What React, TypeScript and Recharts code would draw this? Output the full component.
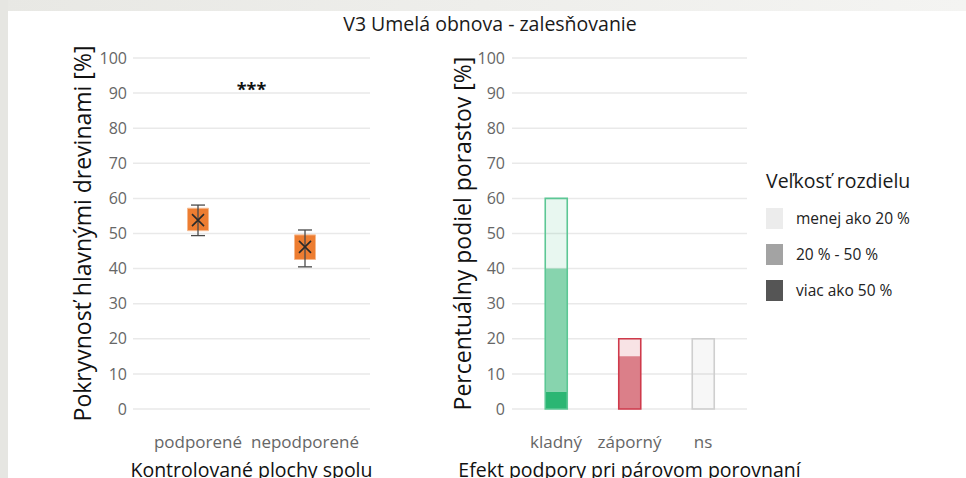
import {
  Bar,
  BarChart,
  CartesianGrid,
  Cell,
  ComposedChart,
  ErrorBar,
  Legend,
  ReferenceLine,
  Scatter,
  XAxis,
  YAxis,
} from "recharts";

const FONT = '"Open Sans", "DejaVu Sans", sans-serif';

// left panel: cover of main tree species, box plot per group
const groups = ["podporené", "nepodporené"];
const boxLow = [50.8, 42.6];
const boxHigh = [57.2, 49.6];
const whiskerLow = [49.4, 40.5];
const whiskerHigh = [58.1, 51.0];
const means = [53.8, 46.2];

const yTicks = [0, 10, 20, 30, 40, 50, 60, 70, 80, 90, 100];

// right panel: share of stands by effect, stacked by size of difference
const effects = ["kladný", "záporný", "ns"];
const over50 = [5, 0, 0];
const from20to50 = [35, 15, 0];
const under20 = [20, 5, 20];

const sizeLabels = ["menej ako 20 %", "20 % - 50 %", "viac ako 50 %"];
const sizeKeyColors = ["#ececec", "#a3a3a3", "#555555"];

const strongFill = ["#2bb673", "#c93545", "#d8d8d8"];
const midFill = ["#87d4ae", "#db7f89", "#e4e4e4"];
const weakFill = ["rgba(43,182,115,0.11)", "rgba(208,56,74,0.14)", "rgba(0,0,0,0.03)"];
const outline = ["#5cc795", "#cf3a4b", "#cfcfcf"];

const boxData = groups.map((name, i) => ({
  name,
  base: boxLow[i],
  box: boxHigh[i] - boxLow[i],
  mean: means[i],
  whisker: [means[i] - whiskerLow[i], whiskerHigh[i] - means[i]],
}));

const shareData = effects.map((name, i) => ({
  name,
  over50: over50[i],
  mid: from20to50[i],
  under20: under20[i],
  total: over50[i] + from20to50[i] + under20[i],
}));

const tickStyle = { fill: "#666666", fontSize: 16, fontFamily: FONT };
const catStyle = { fill: "#666666", fontSize: 17, fontFamily: FONT };

function MeanCross(props: any) {
  const { cx, cy } = props;
  const s = 6;
  return (
    <path
      d={`M${cx - s},${cy - s}L${cx + s},${cy + s}M${cx + s},${cy - s}L${cx - s},${cy + s}`}
      stroke="#2a2a2a"
      strokeWidth={1.6}
      fill="none"
    />
  );
}

function SizeLegend() {
  return (
    <div style={{ fontFamily: FONT, color: "#1a1a1a" }}>
      <div style={{ fontSize: 19.5, lineHeight: "26px", marginBottom: 6 }}>Veľkosť rozdielu</div>
      {sizeLabels.map((label, i) => (
        <div key={label} style={{ display: "flex", alignItems: "center", height: 36 }}>
          <div style={{ width: 17, height: 21, background: sizeKeyColors[i], marginRight: 13 }} />
          <span style={{ fontSize: 15.5, color: "#222" }}>{label}</span>
        </div>
      ))}
    </div>
  );
}

export default function App() {
  return (
    <div
      style={{
        position: "absolute",
        left: 0,
        top: 0,
        width: 966,
        height: 478,
        background: "#fff",
        overflow: "hidden",
        fontFamily: FONT,
      }}
    >
      <div
        style={{
          position: "absolute",
          left: 0,
          top: 0,
          width: 966,
          height: 11,
          background: "linear-gradient(to right, #e8e8e4, #f4f4f2)",
        }}
      />
      <div style={{ position: "absolute", left: 0, top: 0, width: 8, height: 478, background: "#e6e6e2" }} />
      <div
        style={{
          position: "absolute",
          left: 290,
          top: 11,
          width: 400,
          textAlign: "center",
          fontSize: 19.5,
          lineHeight: "26px",
          color: "#1a1a1a",
        }}
      >
        V3 Umelá obnova - zalesňovanie
      </div>

      <div style={{ position: "absolute", left: 0, top: 0 }}>
        <ComposedChart
          width={390}
          height={478}
          data={boxData}
          margin={{ top: 58, right: 20, bottom: 39, left: 0 }}
        >
          <CartesianGrid vertical={false} stroke="#e9e9e9" strokeWidth={1.5} />
          <XAxis
            dataKey="name"
            axisLine={false}
            tickLine={false}
            tickSize={0}
            tickMargin={27}
            height={30}
            interval={0}
            padding={{ left: 11.5, right: 11.5 }}
            tick={catStyle}
            label={{
              value: "Kontrolované plochy spolu",
              position: "bottom",
              offset: 24,
              fill: "#111",
              fontSize: 19.5,
              fontFamily: FONT,
            }}
          />
          <YAxis
            type="number"
            domain={[0, 100]}
            ticks={yTicks}
            interval={0}
            width={133}
            axisLine={false}
            tickLine={false}
            tickSize={0}
            tickMargin={6}
            tick={tickStyle}
            label={{
              value: "Pokryvnosť hlavnými drevinami [%]",
              angle: -90,
              position: "insideLeft",
              offset: 83,
              fill: "#111",
              fontSize: 23,
              fontFamily: FONT,
              style: { textAnchor: "middle" },
            }}
          />
          <ReferenceLine
            y={91}
            stroke="none"
            label={{ value: "***", position: "center", fill: "#111", fontSize: 18, fontWeight: 700, fontFamily: FONT }}
          />
          <Bar dataKey="base" stackId="box" fill="transparent" barSize={21} isAnimationActive={false} />
          <Bar
            dataKey="box"
            stackId="box"
            fill="#ed7d31"
            stroke="#f6b98e"
            strokeWidth={1}
            barSize={21}
            isAnimationActive={false}
          />
          <Scatter dataKey="mean" shape={MeanCross} isAnimationActive={false}>
            <ErrorBar dataKey="whisker" direction="y" width={7} stroke="#4a4a4a" strokeWidth={1.3} />
          </Scatter>
        </ComposedChart>
      </div>

      <div style={{ position: "absolute", left: 390, top: 0 }}>
        <BarChart
          width={576}
          height={478}
          data={shareData}
          margin={{ top: 58, right: 219, bottom: 39, left: 0 }}
          barGap={-22}
        >
          <CartesianGrid vertical={false} stroke="#e9e9e9" strokeWidth={1.5} />
          <XAxis
            dataKey="name"
            axisLine={false}
            tickLine={false}
            tickSize={0}
            tickMargin={27}
            height={30}
            interval={0}
            padding={{ left: 7.25, right: 7.25 }}
            tick={catStyle}
            label={{
              value: "Efekt podpory pri párovom porovnaní",
              position: "bottom",
              offset: 24,
              fill: "#111",
              fontSize: 19.5,
              fontFamily: FONT,
            }}
          />
          <YAxis
            type="number"
            domain={[0, 100]}
            ticks={yTicks}
            interval={0}
            width={122}
            axisLine={false}
            tickLine={false}
            tickSize={0}
            tickMargin={7}
            tick={tickStyle}
            label={{
              value: "Percentuálny podiel porastov [%]",
              angle: -90,
              position: "insideLeft",
              offset: 73,
              fill: "#111",
              fontSize: 23,
              fontFamily: FONT,
              style: { textAnchor: "middle" },
            }}
          />
          <Legend
            layout="horizontal"
            verticalAlign="middle"
            align="center"
            content={SizeLegend}
            wrapperStyle={{ left: 376, top: 168, width: 190 }}
          />
          <Bar dataKey="over50" stackId="share" barSize={22} isAnimationActive={false}>
            {effects.map((e, i) => (
              <Cell key={e} fill={strongFill[i]} />
            ))}
          </Bar>
          <Bar dataKey="mid" stackId="share" barSize={22} isAnimationActive={false}>
            {effects.map((e, i) => (
              <Cell key={e} fill={midFill[i]} />
            ))}
          </Bar>
          <Bar dataKey="under20" stackId="share" barSize={22} isAnimationActive={false}>
            {effects.map((e, i) => (
              <Cell key={e} fill={weakFill[i]} />
            ))}
          </Bar>
          <Bar dataKey="total" stackId="outline" barSize={22} fill="none" isAnimationActive={false}>
            {effects.map((e, i) => (
              <Cell key={e} fill="none" stroke={outline[i]} strokeWidth={1.6} />
            ))}
          </Bar>
        </BarChart>
      </div>
    </div>
  );
}
